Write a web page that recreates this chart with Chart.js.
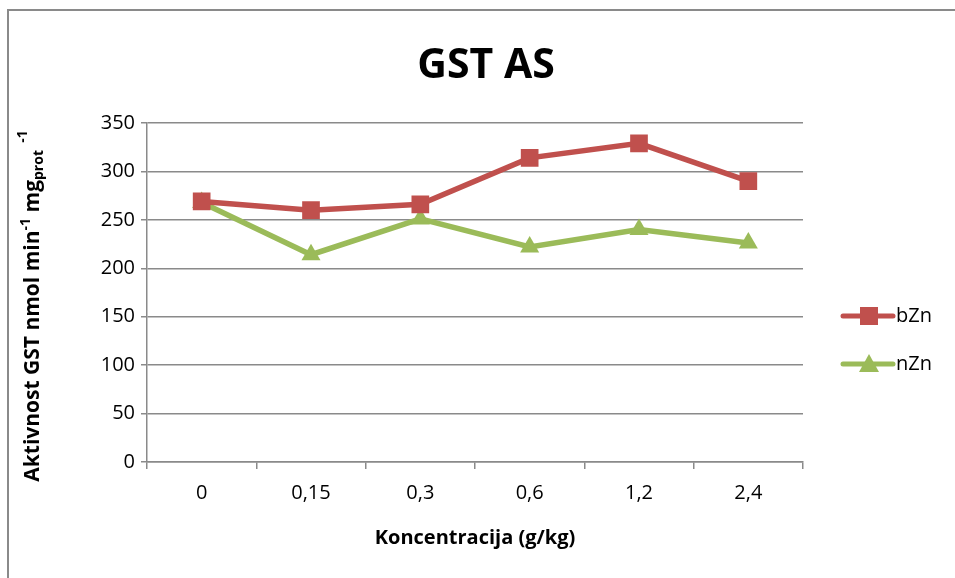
<!DOCTYPE html>
<html>
<head>
<meta charset="utf-8">
<script src="https://cdn.jsdelivr.net/npm/chart.js@4.4.1/dist/chart.umd.min.js"></script>
<style>
    html, body { margin: 0; padding: 0; background: #fff; overflow: hidden; }
    #wrap { position: relative; width: 955px; height: 578px; }
    #frame {
        position: absolute; left: 7px; top: 9px; width: 970px; height: 600px;
        border: 2px solid #8a8a8a; box-sizing: border-box;
    }
    canvas { position: absolute; left: 0; top: 0; }
</style>
</head>
<body>
<div id="wrap">
    <div id="frame"></div>
    <canvas id="chart" width="955" height="578"></canvas>
</div>
<script>
const CATEGORIES = ["0", "0,15", "0,3", "0,6", "1,2", "2,4"];
const BZN = [269, 260, 266, 314, 329, 290];
const NZN = [268, 214, 251, 222, 240, 226];
const Y_TICKS = [0, 50, 100, 150, 200, 250, 300, 350];

const RED = "#C0504D";
const GREEN = "#9BBB59";
const FONT = "'Open Sans', 'Noto Sans', sans-serif";

// title, axis titles (y one has sub/superscripts) and the legend
const decorPlugin = {
    id: "decor",
    afterDraw(chart) {
        const ctx = chart.ctx;
        ctx.save();
        ctx.fillStyle = "#000";
        ctx.textBaseline = "alphabetic";

        // title
        ctx.font = "bold 41px " + FONT;
        ctx.textAlign = "center";
        ctx.fillText("GST AS", 486, 78);

        // x axis title
        ctx.font = "bold 20px " + FONT;
        ctx.fillText("Koncentracija (g/kg)", 475, 544);

        // y axis title
        const parts = [
            { t: "Aktivnost GST nmol min", size: 21, dy: 0 },
            { t: "-1", size: 14, dy: -9 },
            { t: " mg", size: 21, dy: 0 },
            { t: "prot", size: 14, dy: 4 },
            { t: "  -1", size: 14, dy: -12 },
        ];
        let total = 0;
        parts.forEach((p) => {
            ctx.font = "bold " + p.size + "px " + FONT;
            p.w = ctx.measureText(p.t).width;
            total += p.w;
        });
        ctx.translate(39, 306);
        ctx.rotate(-Math.PI / 2);
        ctx.textAlign = "left";
        let x = -total / 2;
        parts.forEach((p) => {
            ctx.font = "bold " + p.size + "px " + FONT;
            ctx.fillText(p.t, x, p.dy);
            x += p.w;
        });
        ctx.restore();

        // legend
        ctx.save();
        const items = [
            { label: "bZn", color: RED, shape: "rect", y: 316 },
            { label: "nZn", color: GREEN, shape: "triangle", y: 364 },
        ];
        items.forEach((it) => {
            ctx.strokeStyle = it.color;
            ctx.fillStyle = it.color;
            ctx.lineWidth = 5;
            ctx.lineCap = "round";
            ctx.beginPath();
            ctx.moveTo(843, it.y);
            ctx.lineTo(893, it.y);
            ctx.stroke();
            if (it.shape === "rect") {
                ctx.fillRect(860, it.y - 9, 18, 18);
            } else {
                ctx.beginPath();
                ctx.moveTo(869, it.y - 10);
                ctx.lineTo(879, it.y + 8);
                ctx.lineTo(859, it.y + 8);
                ctx.closePath();
                ctx.fill();
            }
            ctx.fillStyle = "#000";
            ctx.font = "20px " + FONT;
            ctx.textAlign = "left";
            ctx.textBaseline = "middle";
            ctx.fillText(it.label, 896, it.y);
        });
        ctx.restore();
    },
};

new Chart(document.getElementById("chart"), {
    type: "line",
    data: {
        labels: CATEGORIES,
        datasets: [
            {
                label: "bZn",
                data: BZN,
                borderColor: RED,
                backgroundColor: RED,
                borderWidth: 5.5,
                pointStyle: "rect",
                pointRadius: 12.5,
                pointBorderWidth: 0,
                tension: 0,
            },
            {
                label: "nZn",
                data: NZN,
                borderColor: GREEN,
                backgroundColor: GREEN,
                borderWidth: 5.5,
                pointStyle: "triangle",
                pointRadius: 11,
                pointBorderWidth: 0,
                tension: 0,
            },
        ],
    },
    options: {
        responsive: false,
        animation: false,
        layout: { padding: { left: 0, right: 152, top: 123, bottom: 0 } },
        plugins: {
            legend: { display: false },
            title: { display: false },
            tooltip: { enabled: false },
        },
        scales: {
            x: {
                offset: true,
                grid: {
                    offset: true,
                    drawOnChartArea: false,
                    drawTicks: true,
                    tickLength: 7,
                    color: "#8a8a8a",
                    lineWidth: 1.5,
                },
                border: { color: "#8a8a8a", width: 1.5 },
                ticks: { color: "#000", font: { family: FONT, size: 20 }, padding: 12, maxRotation: 0 },
                afterFit(scale) { scale.height = 116; },
            },
            y: {
                min: 0,
                max: 350,
                afterBuildTicks(scale) { scale.ticks = Y_TICKS.map((v) => ({ value: v })); },
                grid: { color: "#8a8a8a", lineWidth: 1.5, tickLength: 6 },
                border: { color: "#8a8a8a", width: 1.5 },
                ticks: { color: "#000", font: { family: FONT, size: 20 }, padding: 6 },
                afterFit(scale) { scale.width = 147; },
            },
        },
    },
    plugins: [decorPlugin],
});
</script>
</body>
</html>
